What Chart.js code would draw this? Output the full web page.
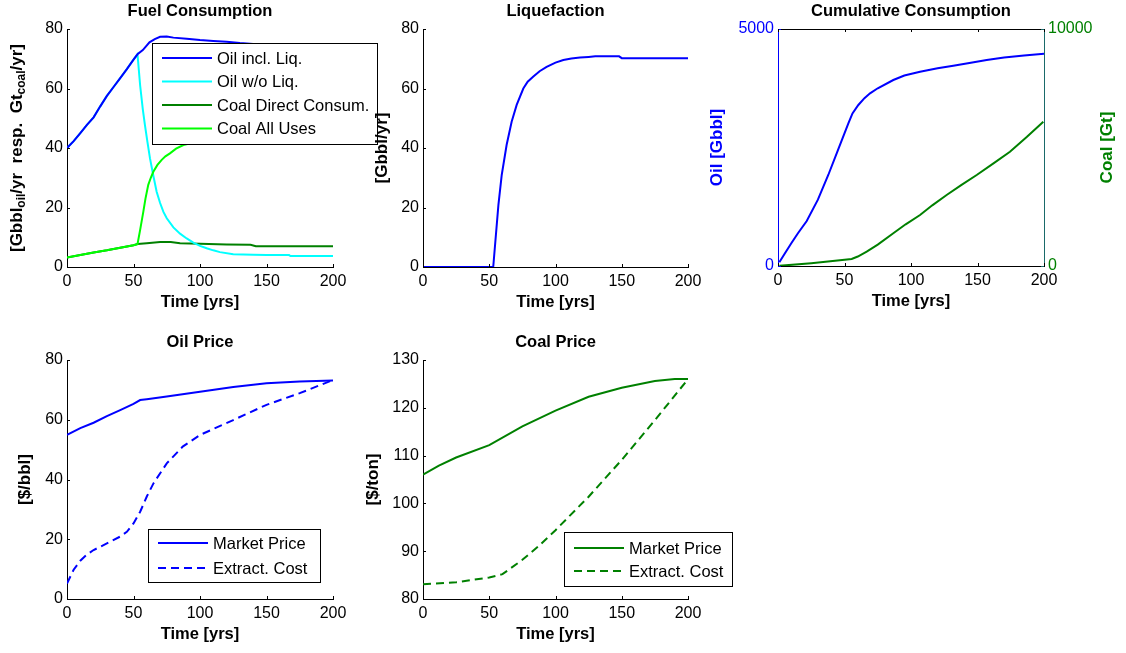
<!DOCTYPE html>
<html>
<head>
<meta charset="utf-8">
<script src="https://cdn.jsdelivr.net/npm/chart.js@4"></script>
<style>
  body { margin: 0; background: #fff; width: 1126px; height: 653px; overflow: hidden; position: relative; }
  canvas { position: absolute; }
</style>
</head>
<body>
<canvas id="fuel"></canvas>
<canvas id="liq"></canvas>
<canvas id="cum"></canvas>
<canvas id="oilPrice"></canvas>
<canvas id="coalPrice"></canvas>
<script>
// ---- data ----
const oilInclT = [0, 5, 10, 15, 20, 25, 30, 35, 40, 45, 50, 53, 57, 62, 66, 70, 75, 80, 90, 100, 110, 120, 130, 140, 150, 160, 170, 180, 190, 200];
const oilInclV = [40, 42.3, 45, 47.8, 50.3, 54, 57.5, 60.5, 63.5, 66.5, 69.7, 71.5, 72.9, 75.5, 76.6, 77.4, 77.5, 77.1, 76.7, 76.3, 76, 75.7, 75.3, 75, 74.8, 74.5, 74, 73.6, 73.5, 73.5];

const oilWoT = [0, 5, 10, 15, 20, 25, 30, 35, 40, 45, 50, 53, 55, 57, 58.6, 60.5, 62.4, 65, 67.4, 70, 72.5, 75, 80, 85, 90, 95, 100, 105, 110, 115, 125, 140, 150, 167, 168, 200];
const oilWoV = [40, 42.3, 45, 47.8, 50.3, 54, 57.5, 60.5, 63.5, 66.5, 69.7, 71.5, 61, 53, 47.7, 42, 36.5, 30.5, 25.3, 21.5, 18.5, 16.4, 13.3, 11.2, 9.6, 8.2, 7.1, 6.3, 5.6, 5.0, 4.3, 4.1, 4.0, 4.0, 3.7, 3.7];

const coalDirT = [0, 10, 20, 30, 40, 50, 53, 60, 70, 78, 85, 100, 120, 138, 142, 200];
const coalDirV = [3.2, 4.0, 4.9, 5.6, 6.5, 7.3, 7.7, 8.0, 8.4, 8.4, 8.0, 7.8, 7.6, 7.5, 7.0, 7.0];

const coalAllT = [0, 10, 20, 30, 40, 50, 53, 55, 57.4, 59, 61.1, 63, 64.9, 68, 71.2, 74, 77.4, 82, 87.5, 93, 100, 110, 150, 155, 200];
const coalAllV = [3.2, 4.0, 4.9, 5.6, 6.5, 7.3, 7.7, 12.5, 18.6, 23, 27.6, 30, 32, 34.3, 36, 37.2, 38.2, 39.8, 41, 41.6, 42.1, 42.4, 42.4, 42.0, 42.0];

const liqT = [0, 53, 56.9, 59.4, 63.1, 66.9, 70.7, 75.7, 79, 83.3, 88, 93.3, 100, 105.9, 112, 118.5, 125, 130, 148, 150, 200];
const liqV = [0, 0, 20.8, 30.9, 41, 48.8, 54.5, 60, 62.3, 64, 65.8, 67.3, 68.7, 69.6, 70.1, 70.4, 70.6, 70.8, 70.8, 70.2, 70.2];

const cumOilT = [1, 5, 10, 15, 21.6, 30, 37.8, 45, 52.9, 56, 60.4, 65, 69.2, 75, 86.7, 95, 106.8, 120, 131.8, 145, 156.9, 170, 185, 200];
const cumOilV = [78, 260, 480, 690, 950, 1400, 1920, 2440, 3010, 3220, 3397, 3540, 3643, 3750, 3924, 4020, 4100, 4170, 4226, 4290, 4346, 4400, 4440, 4480];

const cumCoalT = [1, 25, 55.4, 60, 66.7, 75, 86.7, 96, 106.8, 116, 126.8, 138, 149.4, 162, 174.4, 187, 199.5];
const cumCoalV = [6, 120, 295, 400, 605, 900, 1380, 1760, 2152, 2560, 2996, 3420, 3840, 4330, 4823, 5440, 6089];

const oilMarketT = [0, 10, 20, 30, 40, 50, 55, 60, 75, 100, 125, 150, 175, 200];
const oilMarketV = [54.9, 57.2, 59, 61.2, 63.2, 65.3, 66.6, 66.9, 67.8, 69.4, 71, 72.2, 72.8, 73.1];
const oilCostT = [0, 5, 10, 15, 20, 30, 40, 45, 50, 55, 60, 65, 75, 87, 100, 125, 150, 175, 200];
const oilCostV = [5.2, 9.8, 12.8, 14.9, 16.4, 18.6, 20.9, 22.5, 25.3, 29.2, 34.3, 38.7, 45.4, 51, 54.9, 59.9, 65, 68.9, 73.3];

const coalMarketT = [0, 12, 25, 50, 75, 100, 125, 150, 175, 190, 200];
const coalMarketV = [106, 107.9, 109.6, 112.2, 116.1, 119.4, 122.3, 124.2, 125.6, 126, 126];
const coalCostT = [0, 25, 50, 60, 75, 87, 100, 125, 150, 175, 200];
const coalCostV = [83.1, 83.5, 84.5, 85.2, 88.2, 91, 94.4, 101.4, 109.1, 117.4, 126];

const FONT = '"Liberation Sans", Arial, Helvetica, sans-serif';
const BLUE = '#0000ff', CYAN = '#00ffff', DKGREEN = '#008000', LTGREEN = '#00ff00';

function pts(t, v) { return t.map((x, i) => ({ x: x, y: v[i] })); }

// order: lower value is painted on top
function line(label, t, v, color, dash, axis, order) {
  return {
    label: label, data: pts(t, v), borderColor: color, borderWidth: 2,
    borderDash: dash || [], pointRadius: 0, tension: 0, fill: false,
    yAxisID: axis || 'y', order: order || 0
  };
}

const plainTick = v => String(v);

function xScale(h) {
  return {
    type: 'linear', min: 0, max: 200,
    ticks: { stepSize: 50, font: { family: FONT, size: 16 }, color: '#000', padding: 5, maxRotation: 0, autoSkip: false, callback: plainTick },
    grid: { display: false, drawTicks: false },
    border: { display: true, color: '#000' },
    afterFit(s) { s.height = h; }
  };
}

// top frame line for the boxed panel
function topScale() {
  return {
    type: 'linear', position: 'top', min: 0, max: 200,
    ticks: { display: false, stepSize: 50 },
    grid: { display: false, drawTicks: false },
    border: { display: true, color: '#000' },
    afterFit(s) { s.height = 0; }
  };
}

function yScale(min, max, step, w, pos, color, axisColor) {
  return {
    type: 'linear', position: pos || 'left', min: min, max: max,
    ticks: { stepSize: step, font: { family: FONT, size: 16 }, color: color || '#000', padding: 4, autoSkip: false, callback: plainTick },
    grid: { display: false, drawTicks: false },
    border: { display: true, color: axisColor || '#000' },
    afterFit(s) { s.width = w; }
  };
}

function drawRotated(ctx, parts, cx, cy, color) {
  const big = 'bold 17px ' + FONT, small = 'bold 12px ' + FONT;
  let total = 0;
  parts.forEach(p => { ctx.font = p[1] ? small : big; total += ctx.measureText(p[0]).width; });
  ctx.save();
  ctx.translate(cx, cy);
  ctx.rotate(-Math.PI / 2);
  ctx.fillStyle = color;
  ctx.textBaseline = 'middle';
  ctx.textAlign = 'left';
  let x = -total / 2;
  parts.forEach(p => {
    ctx.font = p[1] ? small : big;
    ctx.fillText(p[0], x, p[1] ? 5 : 0);
    x += ctx.measureText(p[0]).width;
  });
  ctx.restore();
}

// titles, labels, inward ticks and the boxed legend
function decoPlugin(cfg) {
  return {
    id: 'deco',
    afterDraw(chart) {
      const ctx = chart.ctx, a = chart.chartArea;
      ctx.save();
      ctx.setLineDash([]);
      ctx.lineWidth = 1;
      Object.values(chart.scales).forEach(s => {
        if (s.id === 'x2') return;
        ctx.strokeStyle = s.options.border.color;
        ctx.beginPath();
        s.ticks.forEach(t => {
          const p = Math.round(s.getPixelForValue(t.value)) + 0.5;
          if (s.axis === 'x') {
            ctx.moveTo(p, a.bottom); ctx.lineTo(p, a.bottom - 3);
            if (cfg.box) { ctx.moveTo(p, a.top); ctx.lineTo(p, a.top + 3); }
          } else if (s.position === 'left') {
            ctx.moveTo(a.left, p); ctx.lineTo(a.left + 3, p);
          } else {
            ctx.moveTo(a.right, p); ctx.lineTo(a.right - 3, p);
          }
        });
        ctx.stroke();
      });

      ctx.fillStyle = '#000';
      ctx.textAlign = 'center';
      ctx.textBaseline = 'middle';
      ctx.font = 'bold 16.5px ' + FONT;
      const cx = (a.left + a.right) / 2, cy = (a.top + a.bottom) / 2;
      ctx.fillText(cfg.title, cx, a.top - 18);
      ctx.fillText('Time [yrs]', cx, a.bottom + 35);
      cfg.yLabels.forEach(l => {
        const x = l.side === 'right' ? a.right + l.off : a.left - l.off;
        drawRotated(ctx, l.parts, x, cy, l.color || '#000');
      });

      const lg = cfg.legend;
      if (lg) {
        const bx = a.left + lg.dx, by = a.top + lg.dy;
        ctx.fillStyle = '#fff';
        ctx.fillRect(bx, by, lg.w, lg.h);
        ctx.strokeStyle = '#000';
        ctx.strokeRect(bx + 0.5, by + 0.5, lg.w, lg.h);
        ctx.font = '16.5px ' + FONT;
        ctx.textAlign = 'left';
        chart.data.datasets.forEach((d, i) => {
          const y = by + lg.row0 + i * lg.step;
          ctx.strokeStyle = d.borderColor;
          ctx.lineWidth = 2;
          ctx.setLineDash(d.borderDash || []);
          ctx.beginPath();
          ctx.moveTo(bx + 10, y); ctx.lineTo(bx + 60, y);
          ctx.stroke();
          ctx.setLineDash([]);
          ctx.fillStyle = '#000';
          ctx.fillText(d.label, bx + 65, y + 1);
        });
      }
      ctx.restore();
    }
  };
}

function panel(id, rect, area, datasets, scales, deco, rightW) {
  const cv = document.getElementById(id);
  cv.width = rect.w; cv.height = rect.h;
  cv.style.left = rect.x + 'px'; cv.style.top = rect.y + 'px';
  const xH = 30;
  scales.x = xScale(xH);
  if (deco.box) scales.x2 = topScale();
  scales.y.afterFit = s => { s.width = area.left - rect.x; };
  return new Chart(cv, {
    type: 'line',
    data: { datasets: datasets },
    options: {
      responsive: false, animation: false,
      layout: { padding: {
        left: 0,
        top: area.top - rect.y,
        right: rect.x + rect.w - area.right - (rightW || 0),
        bottom: rect.y + rect.h - area.bottom - xH
      } },
      plugins: { legend: { display: false }, tooltip: { enabled: false } },
      scales: scales
    },
    plugins: [decoPlugin(deco)]
  });
}

document.addEventListener('DOMContentLoaded', () => {
  panel('fuel', { x: 0, y: 0, w: 400, h: 320 }, { left: 67, top: 29, right: 333, bottom: 267 }, [
    line('Oil incl. Liq.', oilInclT, oilInclV, BLUE, null, 'y', 0),
    line('Oil w/o Liq.', oilWoT, oilWoV, CYAN, null, 'y', 1),
    line('Coal Direct Consum.', coalDirT, coalDirV, DKGREEN, null, 'y', 1),
    line('Coal All Uses', coalAllT, coalAllV, LTGREEN, null, 'y', 0)
  ], { y: yScale(0, 80, 20, 67) }, {
    title: 'Fuel Consumption',
    yLabels: [{ off: 50, parts: [['[Gbbl', false], ['oil', true], ['/yr  resp.  Gt', false], ['coal', true], ['/yr]', false]] }],
    legend: { dx: 85, dy: 14, w: 225, h: 101, row0: 15, step: 23.5 }
  });

  panel('liq', { x: 360, y: 0, w: 360, h: 320 }, { left: 423, top: 29, right: 688, bottom: 267 }, [
    line('Liquefaction', liqT, liqV, BLUE)
  ], { y: yScale(0, 80, 20, 63) }, {
    title: 'Liquefaction',
    yLabels: [{ off: 41, parts: [['[Gbbl/yr]', false]] }]
  });

  panel('cum', { x: 700, y: 0, w: 426, h: 320 }, { left: 778, top: 29, right: 1044, bottom: 266 }, [
    line('Oil', cumOilT, cumOilV, BLUE, null, 'y'),
    line('Coal', cumCoalT, cumCoalV, DKGREEN, null, 'y1')
  ], {
    y: yScale(0, 5000, 5000, 78, 'left', BLUE, BLUE),
    y1: yScale(0, 10000, 10000, 60, 'right', DKGREEN, '#1a6a6a')
  }, {
    title: 'Cumulative Consumption', box: true,
    yLabels: [
      { off: 61, parts: [['Oil [Gbbl]', false]], color: BLUE },
      { side: 'right', off: 63, parts: [['Coal [Gt]', false]], color: DKGREEN }
    ]
  }, 60);

  panel('oilPrice', { x: 0, y: 320, w: 360, h: 333 }, { left: 67, top: 360, right: 333, bottom: 599 }, [
    line('Market Price', oilMarketT, oilMarketV, BLUE),
    line('Extract. Cost', oilCostT, oilCostV, BLUE, [8, 5])
  ], { y: yScale(0, 80, 20, 67) }, {
    title: 'Oil Price',
    yLabels: [{ off: 42, parts: [['[$/bbl]', false]] }],
    legend: { dx: 81, dy: 169, w: 172, h: 53, row0: 14, step: 25 }
  });

  panel('coalPrice', { x: 360, y: 320, w: 400, h: 333 }, { left: 423, top: 360, right: 688, bottom: 599 }, [
    line('Market Price', coalMarketT, coalMarketV, DKGREEN),
    line('Extract. Cost', coalCostT, coalCostV, DKGREEN, [8, 5])
  ], { y: yScale(80, 130, 10, 63) }, {
    title: 'Coal Price',
    yLabels: [{ off: 50, parts: [['[$/ton]', false]] }],
    legend: { dx: 141, dy: 172, w: 168, h: 54, row0: 16, step: 23 }
  });
});
</script>
</body>
</html>
